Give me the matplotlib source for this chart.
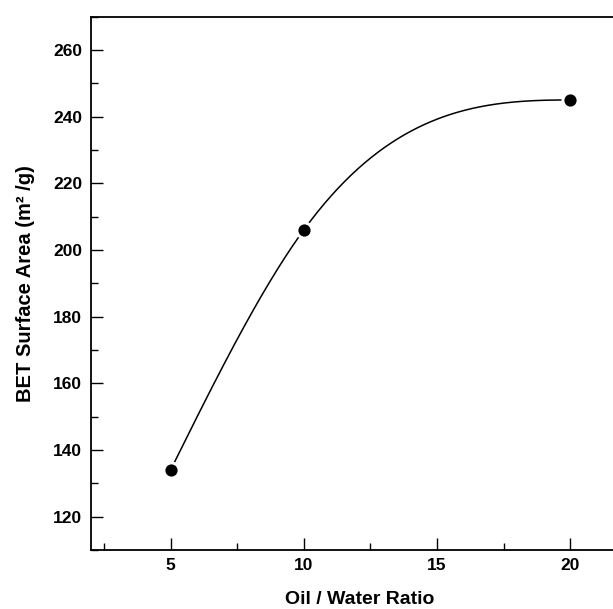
import numpy as np
import matplotlib
matplotlib.use("Agg")
from matplotlib import pyplot as plt
from matplotlib.ticker import MultipleLocator

# data
ratio = [5, 10, 20]
bet_area = [134, 206, 245]

xticks = [5, 10, 15, 20]
yticks = [120, 140, 160, 180, 200, 220, 240, 260]

plt.rcParams['font.family'] = ['Liberation Sans', 'DejaVu Sans']
plt.rcParams['font.weight'] = 'bold'


def spline_curve(x, y, n=300):
    # cubic spline: natural at the start, flat at the end
    x = np.asarray(x, float)
    y = np.asarray(y, float)
    h = np.diff(x)
    A = np.array([[2 * (h[0] + h[1]), h[1]],
                  [h[1], 2 * h[1]]])
    b = np.array([6 * ((y[2] - y[1]) / h[1] - (y[1] - y[0]) / h[0]),
                  6 * (0 - (y[2] - y[1]) / h[1])])
    M = np.concatenate([[0.0], np.linalg.solve(A, b)])
    xs = np.linspace(x[0], x[-1], n)
    ys = np.empty_like(xs)
    for k, xv in enumerate(xs):
        i = min(np.searchsorted(x, xv, side='right') - 1, len(h) - 1)
        a = x[i + 1] - xv
        c = xv - x[i]
        ys[k] = (M[i] * a ** 3 / (6 * h[i]) + M[i + 1] * c ** 3 / (6 * h[i])
                 + (y[i] / h[i] - M[i] * h[i] / 6) * a
                 + (y[i + 1] / h[i] - M[i + 1] * h[i] / 6) * c)
    return xs, ys


fig = plt.figure(figsize=(6.13, 6.09), dpi=100)
# right edge runs past the picture, like the reference crop
ax = fig.add_axes([90.7 / 613, 59 / 609, 538 / 613, 533.4 / 609])

xs, ys = spline_curve(ratio, bet_area)
ax.plot(xs, ys, color='black', lw=1.1, zorder=2)
ax.plot(ratio, bet_area, 'o', color='white', ms=13, mew=0, zorder=3)
ax.plot(ratio, bet_area, 'o', color='black', ms=8.8, mew=0, zorder=4)

ax.set_xlim(2, 22.2)
ax.set_ylim(110, 270)
ax.set_xticks(xticks)
ax.set_yticks(yticks)
ax.xaxis.set_minor_locator(MultipleLocator(2.5))
ax.yaxis.set_minor_locator(MultipleLocator(10))
ax.tick_params(which='major', direction='in', length=8.4, width=1.0,
               labelsize=12.5, pad=6)
ax.tick_params(which='minor', direction='in', length=5, width=1.0)
for s in ax.spines.values():
    s.set_linewidth(1.3)
ax.spines['right'].set_visible(False)

ax.set_xlabel('Oil / Water Ratio', fontsize=14, fontweight='bold', labelpad=13)
ax.set_ylabel('BET Surface Area (m² /g)', fontsize=14.5, fontweight='bold',
              labelpad=13)

fig.savefig('out.png', dpi=100)
